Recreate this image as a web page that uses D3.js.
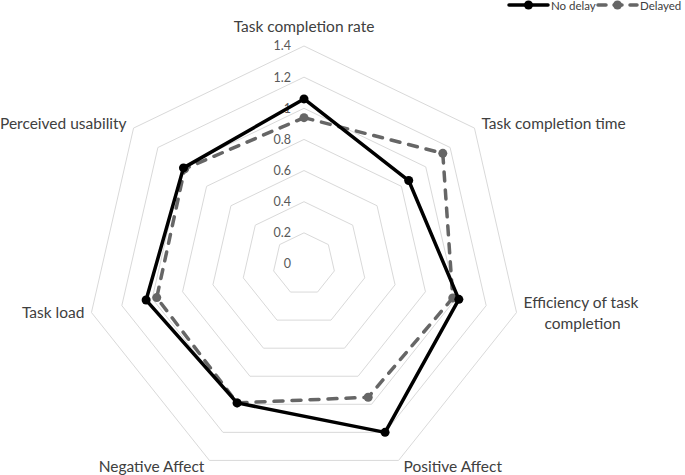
<!DOCTYPE html>
<html>
<head>
<meta charset="utf-8">
<script src="https://cdn.jsdelivr.net/npm/d3@7"></script>
<style>
	html, body { margin: 0; padding: 0; background: #fff; }
	svg { display: block; font-family: Lato, 'Open Sans', sans-serif; }
</style>
</head>
<body>
<svg id="chart" width="685" height="475"></svg>
<script>
;(() => {
	'use strict';

	// chart data
	const axes = ['Task completion rate', 'Task completion time', 'Efficiency of task completion',
		'Positive Affect', 'Negative Affect', 'Task load', 'Perceived usability'];
	const noDelay = [1.06, 0.86, 1.02, 1.20, 0.99, 1.04, 0.99];
	const delayed = [0.94, 1.14, 0.98, 0.95, 0.99, 0.97, 0.98];
	const ticks = [0, 0.2, 0.4, 0.6, 0.8, 1, 1.2, 1.4];
	const seriesNames = ['No delay', 'Delayed'];

	const cx = 304,
		cy = 264,
		outerR = 218;

	const svg = d3.select('#chart');

	const r = d3.scaleLinear().domain([0, 1.4]).range([0, outerR]);
	const angle = d3.scaleLinear().domain([0, axes.length]).range([-Math.PI / 2, 1.5 * Math.PI]);

	const pt = (i, v) => [cx + r(v) * Math.cos(angle(i)), cy + r(v) * Math.sin(angle(i))];

	// grid rings
	const ringLine = d3.line().curve(d3.curveLinearClosed);
	svg.append('g').selectAll('path')
		.data(ticks.filter(t => t > 0))
		.enter().append('path')
		.attr('d', t => ringLine(axes.map((a, i) => pt(i, t))))
		.attr('fill', 'none')
		.attr('stroke', '#d9d9d9')
		.attr('stroke-width', 1);

	// tick labels
	svg.append('g').selectAll('text')
		.data(ticks)
		.enter().append('text')
		.attr('x', cx - 13)
		.attr('y', t => cy - r(t))
		.attr('dy', '0.35em')
		.attr('text-anchor', 'end')
		.attr('font-size', 12.5)
		.attr('fill', '#595959')
		.text(t => d3.format('~g')(t));

	// axis labels
	const labelG = svg.append('g');
	axes.forEach((name, i) => {
		const a = angle(i),
			c = Math.cos(a),
			s = Math.sin(a),
			[vx, vy] = pt(i, 1.4);
		let x = vx, y = vy, anchor = 'middle';
		if (Math.abs(c) < 0.1) { y = vy - 19; }
		else if (s > 0.8) { x = vx + (c > 0 ? 5 : -5); y = vy + 6; anchor = c > 0 ? 'start' : 'end'; }
		else { x = vx + (c > 0 ? 7 : -7); y = vy + (s < 0 ? -5 : 0); anchor = c > 0 ? 'start' : 'end'; }

		const t = labelG.append('text')
			.attr('x', x)
			.attr('y', y)
			.attr('font-size', 15.5)
			.attr('fill', '#404040')
			.attr('text-anchor', anchor);
		if (name === 'Efficiency of task completion') {
			t.attr('text-anchor', 'start').attr('y', y - 5);
			t.append('tspan').attr('x', x).attr('dy', '0').text('Efficiency of task');
			t.append('tspan').attr('x', x + 59).attr('dy', '21').attr('text-anchor', 'middle').text('completion');
		} else {
			t.attr('dy', '0.35em').text(name);
		}
	});

	// series
	const series = [
		{ name: seriesNames[0], values: noDelay, color: '#000000', dash: null },
		{ name: seriesNames[1], values: delayed, color: '#666666', dash: '9,9' }
	];

	const seriesG = svg.append('g');
	series.slice().reverse().forEach((s) => {
		const g = seriesG.append('g');
		g.append('path')
			.attr('d', ringLine(s.values.map((v, i) => pt(i, v))))
			.attr('fill', 'none')
			.attr('stroke', s.color)
			.attr('stroke-width', 3.5)
			.attr('stroke-linejoin', 'round')
			.attr('stroke-linecap', 'round')
			.attr('stroke-dasharray', s.dash);
		g.selectAll('circle')
			.data(s.values)
			.enter().append('circle')
			.attr('cx', (v, i) => pt(i, v)[0])
			.attr('cy', (v, i) => pt(i, v)[1])
			.attr('r', 4.5)
			.attr('fill', s.color);
	});

	// legend
	const legend = svg.append('g').attr('transform', 'translate(509,5)');
	const legendX = [0, 89];
	series.forEach((s, k) => {
		const g = legend.append('g').attr('transform', `translate(${legendX[k]},0)`);
		g.append('line')
			.attr('x1', 0).attr('x2', 39)
			.attr('y1', 0).attr('y2', 0)
			.attr('stroke', s.color)
			.attr('stroke-width', 3.5)
			.attr('stroke-linecap', 'round')
			.attr('stroke-dasharray', s.dash ? '8,8' : null);
		g.append('circle').attr('cx', 19.5).attr('cy', 0).attr('r', 4.5).attr('fill', s.color);
		g.append('text')
			.attr('x', 42).attr('y', 1).attr('dy', '0.35em')
			.attr('font-size', 11.5)
			.attr('fill', '#404040')
			.text(s.name);
	});
})();
</script>
</body>
</html>
